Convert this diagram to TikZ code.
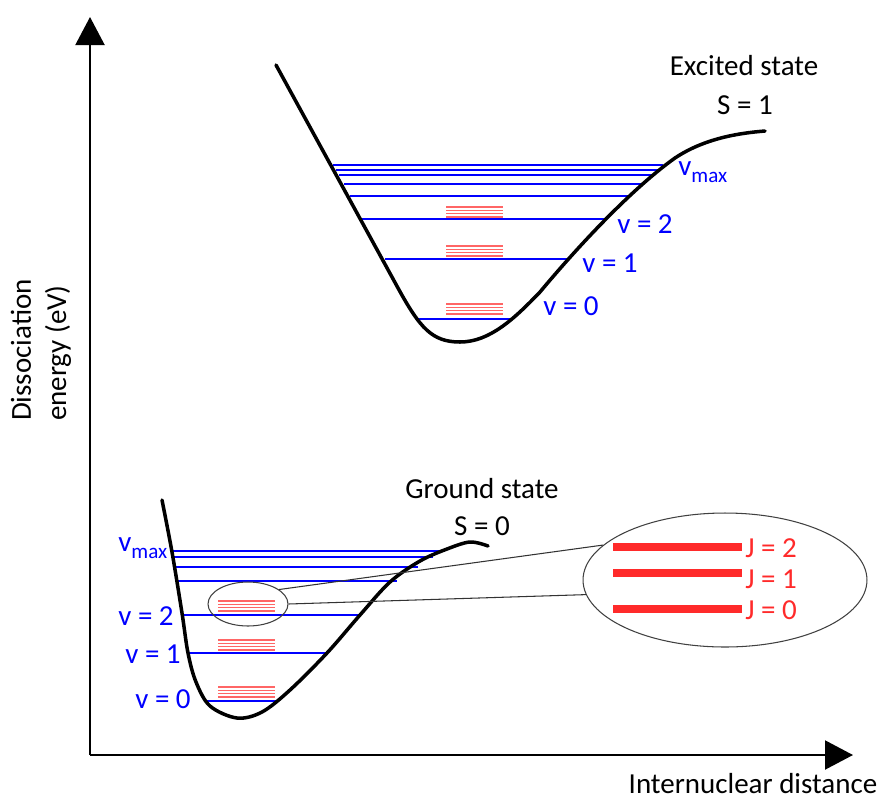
\documentclass[tikz,border=0pt]{standalone}
\usepackage{fontspec}
\setmainfont{Carlito}
\usetikzlibrary{arrows.meta, positioning, shapes.geometric}
\definecolor{rotred}{HTML}{FF2A2A}
\newcommand{\vmaxlbl}{v\raisebox{-4pt}{\fontsize{12}{12}\selectfont max}}

\begin{document}
\begin{tikzpicture}[
    x=0.02cm, y=-0.02cm,
    every node/.style={font=\fontsize{16.5}{20}\selectfont, inner sep=0pt},
    axis/.style={line width=1.2pt, -{Triangle[length=0.56cm, width=0.58cm]}},
    curve/.style={line width=2pt, line cap=round},
    level/.style={blue, line width=1.5pt},
    rotline/.style={red!60, line width=0.9pt},
    jline/.style={rotred, line width=4.5pt},
    lvl/.style={text=blue, anchor=base west},
    jlbl/.style={text=rotred, anchor=west},
    zoomell/.style={draw=black!75, ellipse, line width=0.6pt}
]
\useasboundingbox (0,0) rectangle (890,799);

% axes
\coordinate (orig) at (90,755);
\coordinate (ytip) at (90,17);
\coordinate (xtip) at (853,755);
\draw[axis] (orig) -- (ytip);
\draw[axis] (orig) -- (xtip);
\node (ylab) [rotate=90, align=left] at (41,350) {Dissociation\\energy (eV)};
\node (xlab) [anchor=base] at (753,793) {Internuclear distance};

% excited state
\foreach \y/\xl/\xr in {165/333/663, 170/336/659, 175/339/655, 184/344/643,
                        196/350/630, 219/362/606, 259/385/570, 319/418/510}
  \draw[level] (\xl,\y) -- (\xr,\y);
\draw[curve] (276,65) -- (398,288) .. controls (420,328) and (432,342) .. (460,342)
  .. controls (490,342) and (515,318) .. (540,292)
  .. controls (575,250) and (630,190) .. (675,158)
  .. controls (705,138) and (740,133) .. (765,131);
\node (exc) [anchor=base] at (744,75) {Excited state};
\node (excS) [anchor=base] at (745,114) {S = 1};
\node (evmax) [lvl] at (678,175) {\vmaxlbl};
\node (ev2) [lvl] at (617,233) {v = 2};
\node (ev1) [lvl] at (582,272) {v = 1};
\node (ev0) [lvl] at (543,315) {v = 0};

% ground state
\foreach \y/\xl/\xr in {551/172/443, 557/173/433, 567/175/418, 581/177/397,
                        615/182/360, 653/188/328, 701/205/277}
  \draw[level] (\xl,\y) -- (\xr,\y);
\draw[curve] plot[smooth, tension=0.55] coordinates {(162,500) (172,552) (182,613)
  (188,653) (196,682) (210,706) (237,718) (262,712) (290,690) (327,653) (360,615)
  (390,582) (420,561) (447,549) (470,542) (488,546)};
\node (gnd) [anchor=base] at (482,498) {Ground state};
\node (gndS) [anchor=base] at (482,535) {S = 0};
\node (gvmax) [lvl] at (118,551) {\vmaxlbl};
\node (gv2) [lvl] at (118,625) {v = 2};
\node (gv1) [lvl] at (125,663) {v = 1};
\node (gv0) [lvl] at (135,708) {v = 0};

% rotational sublevels
\foreach \x/\y in {446/207, 446/246, 446/304, 218/601, 218/640, 218/687}
  \foreach \d in {0,3.3,6.6,9.9}
    \draw[rotline] (\x,{\y+\d}) -- ++(57,0);

% zoom
\node (zsmall) [zoomell, minimum width=1.6cm, minimum height=0.88cm] at (248,604) {};
\node (zbig) [zoomell, minimum width=5.68cm, minimum height=2.68cm] at (725,580) {};
\draw[black!80, line width=0.6pt] (zsmall.25) -- (zbig.164);
\draw[black!80, line width=0.6pt] (zsmall.0) -- (zbig.186);
\foreach \n/\y/\ly in {2/547/548, 1/573/579, 0/609/610} {
  \draw[jline] (613,\y) -- (742,\y);
  \node (j\n) [jlbl] at (745,\ly) {J = \n};
}
\end{tikzpicture}
\end{document}
